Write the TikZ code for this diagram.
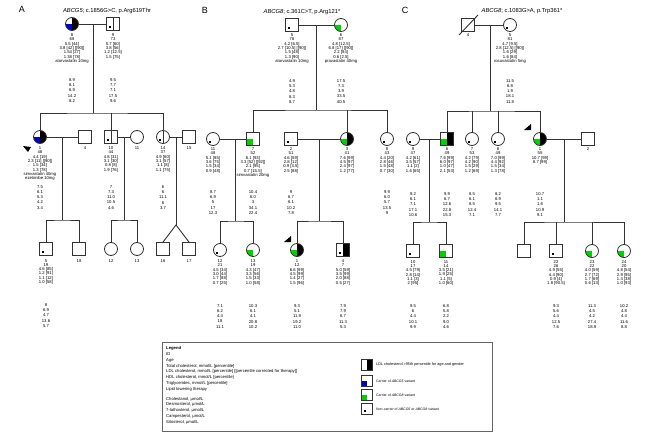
\documentclass[tikz,border=0pt]{standalone}
\usepackage{fontspec}
\setmainfont{Liberation Sans}
\definecolor{cblue}{RGB}{0,0,200}
\definecolor{cgreen}{RGB}{0,210,0}
\newcommand\PRH{\fill[black] (path picture bounding box.north) rectangle (path picture bounding box.south east);}
\newcommand\PBL[1]{\fill[#1] (path picture bounding box.center) rectangle (path picture bounding box.south west);}
\newcommand\PDOT{\fill[black] ([shift={(2.5pt,2.5pt)}]path picture bounding box.south west) rectangle ++(2.2pt,2.2pt);}
\newcommand\PVL{\draw[line width=0.6pt] (path picture bounding box.north) -- (path picture bounding box.south);}
\tikzset{
  ln/.style={line width=0.9pt, draw=black!80},
  male/.style={draw=black!80, line width=0.8pt, rectangle, minimum size=13pt, inner sep=0pt, fill=white},
  female/.style={draw=black!80, line width=0.8pt, circle, minimum size=13pt, inner sep=0pt, fill=white},
  pp/.style={path picture={#1}},
  info/.style={anchor=north, align=center, font=\fontsize{4.2}{4.3}\selectfont, inner sep=0pt},
  ster/.style={anchor=north, align=center, font=\fontsize{4.2}{5.3}\selectfont, inner sep=0pt},
  panel/.style={font=\fontsize{9}{9}\selectfont, inner sep=0pt},
  ttl/.style={font=\fontsize{5.8}{6}\selectfont, inner sep=0pt},
}
\begin{document}
\begin{tikzpicture}[x=1pt,y=-1pt]
\fill[white] (0,0) rectangle (654,434);
\useasboundingbox (0,0) rectangle (654,434);

% ---------------- Panel A ----------------
\node[panel] (pA) at (22,9) {A};
\node[ttl] (tA) at (107,11) {\textit{ABCG5}; c.1856G>C, p.Arg619Thr};
\node[female, pp={\PRH\PBL{cblue}}] (a8) at (72,24) {};
\node[male, pp={\PVL\PDOT}] (a9) at (113,24) {};
\node[info] (ia8) at (72,33.5) {8\\68\\5.5 [44]\\3.8 [42] [[90]]\\1.54 [27]\\1.38 [78]\\atorvastatin 10mg};
\node[ster] (sa8) at (72,78) {8.9\\8.1\\6.9\\14.2\\8.2};
\node[info] (ia9) at (113,33.5) {9\\73\\5.7 [60]\\3.8 [56]\\1.2 [12.5]\\1.5 [75]};
\node[ster] (sa9) at (113,78) {9.5\\7.7\\7.1\\17.5\\9.6};
\coordinate (mA1) at (93,24);
\coordinate (sA1) at (93,113);
\draw[ln] (a8) -- (a9);
\draw[ln] (mA1) -- (sA1);

\node[female, pp={\PRH\PBL{cblue}}] (a1) at (40,137) {};
\node[male] (a4) at (85,137) {};
\node[male, pp={\PVL\PDOT}] (a10) at (111,137) {};
\node[female] (a11) at (137,137) {};
\node[female, pp={\PVL\PDOT}] (a14) at (163,137) {};
\node[male] (a15) at (189,137) {};
\draw[ln] (a1) |- (sA1) -| (a14);
\draw[ln] (a10) -- (a10 |- sA1);
\draw[ln] (a1) -- (a4);
\draw[ln] (a10) -- (a11);
\draw[ln] (a14) -- (a15);
\fill[black] (23,146) -- (31,147) -- (28,152) -- cycle;
\node[info] (ia1) at (40,146.5) {1\\48\\4.4 [19]\\2.3 [11] [[90]]\\1.5 [34]\\1.3 [78]\\simvastatin 40mg\\ezetimibe 10mg};
\node[ster] (sa1) at (40,185) {7.5\\6.1\\5.3\\4.2\\3.4};
\node[info] (ia4) at (85,146.5) {4};
\node[info] (ia10) at (111,146.5) {10\\44\\4.8 [31]\\3.1 [30]\\0.8 [8]\\1.9 [76]};
\node[ster] (sa10) at (111,185) {7\\7.3\\11.0\\10.5\\4.6};
\node[info] (ia11) at (137,146.5) {11};
\node[info] (ia14) at (163,146.5) {14\\37\\4.9 [60]\\3.1 [57]\\1.1 [8]\\1.1 [75]};
\node[ster] (sa14) at (163,185) {6\\6\\11.1\\6\\3.7};
\node[info] (ia15) at (189,146.5) {15};

\coordinate (mA2) at (62,137);
\coordinate (sA2) at (62,220);
\coordinate (mA3) at (124,137);
\coordinate (sA3) at (124,220);
\coordinate (mA4) at (176,137);
\coordinate (tw) at (176,225);
\draw[ln] (mA2) -- (sA2);
\draw[ln] (mA3) -- (sA3);
\draw[ln] (mA4) -- (tw);

\node[male, pp={\PDOT}] (a5) at (46,249) {};
\node[male] (a18) at (79,249) {};
\node[female] (a12) at (111,249) {};
\node[female] (a13) at (137,249) {};
\node[male] (a16) at (163,249) {};
\node[male] (a17) at (189,249) {};
\draw[ln] (a5) |- (sA2) -| (a18);
\draw[ln] (a12) |- (sA3) -| (a13);
\draw[ln] (a16.north) -- (tw) -- (a17.north);
\node[info] (ia5) at (46,259) {5\\19\\4.6 [85]\\1.2 [91]\\1.1 [12]\\1.0 [58]};
\node[ster] (sa5) at (46,303) {8\\6.9\\4.7\\13.6\\5.7};
\node[info] (ia18) at (79,259) {18};
\node[info] (ia12) at (111,259) {12};
\node[info] (ia13) at (137,259) {13};
\node[info] (ia16) at (163,259) {16};
\node[info] (ia17) at (189,259) {17};

% ---------------- Panel B ----------------
\node[panel] (pB) at (205,10) {B};
\node[ttl] (tB) at (302,12) {\textit{ABCG8}; c.361C>T, p.Arg121*};
\node[male, pp={\PDOT}] (b5) at (292,25) {};
\node[female, pp={\PBL{cgreen}}] (b6) at (341,25) {};
\coordinate (mB1) at (316,25);
\coordinate (sB1) at (316,110);
\draw[ln] (b5) -- (b6);
\draw[ln] (mB1) -- (sB1);
\node[info] (ib5) at (292,33.5) {5\\76\\4.2 [6.5]\\2.7 [10.5] [[90]]\\1.5 [48]\\1.3 [90]\\atorvastatin 10mg};
\node[ster] (sb5) at (292,79) {4.9\\5.3\\4.8\\8.3\\8.7};
\node[info] (ib6) at (341,33.5) {6\\87\\4.8 [12.5]\\6.8 [17] [[90]]\\2.2 [84]\\0.6 [2.5]\\pravastatin 40mg};
\node[ster] (sb6) at (341,79) {17.5\\7.3\\3.9\\33.5\\40.5};

\node[female, pp={\PDOT}] (b11) at (213,139) {};
\node[male, pp={\PBL{cgreen}}] (b7) at (253,139) {};
\node[male, pp={\PDOT}] (b2) at (291,139) {};
\node[female, pp={\PRH\PBL{cgreen}}] (b3) at (347,139) {};
\node[female, pp={\PDOT}] (b8) at (387,139) {};
\draw[ln] (b7) |- (sB1) -| (b8);
\draw[ln] (b3) -- (b3 |- sB1);
\draw[ln] (b11) -- (b7);
\draw[ln] (b2) -- (b3);
\coordinate (mB2) at (235,139);
\coordinate (sB2) at (235,221);
\coordinate (mB3) at (319,139);
\coordinate (sB3) at (319,221);
\draw[ln] (mB2) -- (sB2);
\draw[ln] (mB3) -- (sB3);
\node[info] (ib11) at (213,147.5) {11\\48\\5.1 [85]\\3.6 [75]\\1.5 [34]\\0.9 [48]};
\node[ster] (sb11) at (213,190) {8.7\\6.9\\5\\17\\12.3};
\node[info] (ib7) at (253,147.5) {7\\52\\6.1 [93]\\3.3 [52] [[92]]\\2.1 [95]\\0.7 [15.5]\\simvastatin 20mg};
\node[ster] (sb7) at (253,190) {10.4\\6.0\\3\\34.1\\22.4};
\node[info] (ib2) at (291,147.5) {2\\51\\4.6 [59]\\2.8 [12]\\0.9 [3.5]\\2.5 [88]};
\node[ster] (sb2) at (291,190) {9\\6.7\\6.1\\10.2\\7.8};
\node[info] (ib3) at (347,147.5) {3\\41\\7.6 [99]\\4.5 [97]\\2.4 [97]\\1.2 [77]};
\node[info] (ib8) at (387,147.5) {8\\43\\4.4 [20]\\2.8 [46]\\1.5 [48]\\0.7 [30]};
\node[ster] (sb8) at (387,190) {9.9\\6.0\\5.7\\13.5\\9};

\node[female, pp={\PDOT}] (b12) at (220,250) {};
\node[female, pp={\PBL{cgreen}}] (b13) at (253,250) {};
\node[female, pp={\PRH\PBL{cgreen}}] (b1) at (297,250) {};
\node[male, pp={\PRH\PDOT}] (b4) at (343,250) {};
\draw[ln] (b12) |- (sB2) -| (b13);
\draw[ln] (b1) |- (sB3) -| (b4);
\fill[black] (284,242) -- (291,236) -- (291,242) -- cycle;
\node[info] (ib12) at (220,259.5) {12\\21\\4.5 [34]\\3.0 [44]\\1.7 [88]\\0.7 [25]};
\node[ster] (sb12) at (220,304) {7.1\\6.2\\4.4\\18\\11.1};
\node[info] (ib13) at (253,259.5) {13\\19\\4.3 [47]\\3.3 [56]\\1.5 [33]\\1.0 [58]};
\node[ster] (sb13) at (253,304) {10.3\\6.1\\4.1\\20.8\\10.2};
\node[info] (ib1) at (297,259.5) {1\\12\\6.6 [99]\\4.5 [99]\\1.4 [27]\\1.5 [96]};
\node[ster] (sb1) at (297,304) {9.3\\5.1\\11.9\\19.2\\11.0};
\node[info] (ib4) at (343,259.5) {4\\7\\5.0 [59]\\3.5 [99]\\2.0 [88]\\0.5 [27]};
\node[ster] (sb4) at (343,304) {7.9\\7.9\\6.7\\11.3\\5.3};

% ---------------- Panel C ----------------
\node[panel] (pC) at (405,10) {C};
\node[ttl] (tC) at (522,11) {\textit{ABCG8}; c.1083G>A, p.Trp361*};
\node[male] (c4) at (468,25) {};
\draw[ln] ([shift={(-9pt,-10pt)}]c4.center) -- ([shift={(10pt,10pt)}]c4.center);
\node[female, pp={\PDOT}] (c5) at (510,25) {};
\coordinate (mC1) at (490,25);
\coordinate (sC1) at (490,111);
\draw[ln] (c4) -- (c5);
\draw[ln] (mC1) -- (sC1);
\node[info] (ic4) at (468,33.5) {4};
\node[info] (ic5) at (510,33.5) {5\\81\\4.7 [9.5]\\2.8 [12.5] [[90]]\\1.6 [29]\\1.6 [84]\\rosuvastatin 5mg};
\node[ster] (sc5) at (510,79) {11.5\\6.8\\1.9\\18.1\\11.8};

\node[female, pp={\PDOT}] (c9) at (413,139) {};
\node[male, pp={\PRH\PBL{cgreen}}] (c6) at (447,139) {};
\node[female, pp={\PDOT}] (c7) at (472,139) {};
\node[female, pp={\PDOT}] (c8) at (498,139) {};
\node[female, pp={\PRH\PBL{cgreen}}] (c1) at (540,139) {};
\node[male] (c2) at (588,139) {};
\draw[ln] (c6) |- (sC1) -| (c1);
\draw[ln] (c7) -- (c7 |- sC1);
\draw[ln] (c8) -- (c8 |- sC1);
\draw[ln] (c9) -- (c6);
\draw[ln] (c1) -- (c2);
\fill[black] (524,130) -- (531,124) -- (531,130) -- cycle;
\coordinate (mC2) at (429,139);
\coordinate (sC2) at (429,222);
\coordinate (mC3) at (564,139);
\coordinate (sC3) at (564,222);
\draw[ln] (mC2) -- (sC2);
\draw[ln] (mC3) -- (sC3);
\node[info] (ic9) at (413,147.5) {9\\47\\4.2 [61]\\3.5 [57]\\1.1 [2]\\1.6 [65]};
\node[ster] (sc9) at (413,192) {9.2\\6.1\\7.1\\17.1\\10.6};
\node[info] (ic6) at (447,147.5) {6\\49\\7.6 [99]\\6.0 [97]\\1.0 [47]\\2.1 [53]};
\node[ster] (sc6) at (447,192) {9.9\\6.7\\12.6\\22.8\\15.3};
\node[info] (ic7) at (472,147.5) {7\\53\\4.2 [79]\\4.2 [90]\\1.5 [29]\\1.2 [69]};
\node[ster] (sc7) at (472,192) {8.5\\6.1\\8.5\\12.4\\7.1};
\node[info] (ic8) at (498,147.5) {8\\49\\7.0 [99]\\4.4 [92]\\1.5 [34]\\1.3 [78]};
\node[ster] (sc8) at (498,192) {8.2\\6.9\\9.5\\14.1\\7.7};
\node[info] (ic1) at (540,147.5) {1\\55\\10.7 [99]\\8.7 [99]};
\node[ster] (sc1) at (540,192) {10.7\\1.1\\1.6\\10.9\\9.1};
\node[info] (ic2) at (588,147.5) {2};

\node[male, pp={\PDOT}] (c10) at (413,251) {};
\node[male, pp={\PBL{cgreen}}] (c11) at (446,251) {};
\node[male] (c21) at (524,251) {};
\node[male, pp={\PDOT}] (c22) at (556,251) {};
\node[female, pp={\PBL{cgreen}}] (c23) at (592,251) {};
\node[female, pp={\PBL{cgreen}}] (c24) at (624,251) {};
\draw[ln] (c10) |- (sC2) -| (c11);
\draw[ln] (c21) |- (sC3) -| (c24);
\draw[ln] (c22) -- (c22 |- sC3);
\draw[ln] (c23) -- (c23 |- sC3);
\node[info] (ic10) at (413,260) {10\\17\\4.5 [79]\\2.8 [14]\\1.1 [3]\\2 [95]};
\node[ster] (sc10) at (413,304) {9.5\\6\\4.4\\10.1\\9.9};
\node[info] (ic11) at (446,260) {11\\14\\3.5 [21]\\1.9 [25]\\1.1 [5]\\1.0 [60]};
\node[ster] (sc11) at (446,304) {6.8\\5.8\\2.2\\9.0\\4.6};
\node[info] (ic22) at (556,260) {22\\26\\4.9 [55]\\4.4 [90]\\0.9 [4]\\1.8 [90.5]};
\node[ster] (sc22) at (556,304) {9.3\\5.6\\4.4\\12.5\\7.6};
\node[info] (ic23) at (592,260) {23\\22\\4.0 [59]\\2.7 [72]\\1.7 [69]\\0.6 [13]};
\node[ster] (sc23) at (592,304) {11.3\\4.5\\4.2\\27.4\\18.9};
\node[info] (ic24) at (624,260) {24\\20\\4.8 [54]\\2.9 [95]\\1.4 [38]\\1.0 [93]};
\node[ster] (sc24) at (624,304) {10.2\\4.8\\4.4\\11.6\\8.8};

% ---------------- Legend ----------------
\node[draw=black!60, line width=0.8pt, minimum width=330pt, minimum height=89pt, anchor=north west, inner sep=0pt] (legbox) at (162,342) {};
\node[anchor=north west, align=left, inner sep=0pt, font=\fontsize{4.2}{5.8}\selectfont] (legtxt) at (166,346.5)
 {\textbf{Legend}\\ID\\Age\\Total cholesterol, mmol/L [percentile]\\LDL cholesterol, mmol/L [percentile] [[percentile corrected for therapy]]\\HDL cholesterol, mmol/L [percentile]\\Triglycerides, mmol/L [percentile]\\Lipid lowering therapy\\[4pt]Cholestanol, µmol/L\\Desmosterol, µmol/L\\7-lathosterol, µmol/L\\Campesterol, µmol/L\\Sitosterol, µmol/L};
\node[male, minimum size=11.5pt, pp={\PRH}] (l1) at (367,365) {};
\node[male, minimum size=11.5pt, pp={\PBL{cblue}}] (l2) at (367,381) {};
\node[male, minimum size=11.5pt, pp={\PBL{cgreen}}] (l3) at (367,395) {};
\node[male, minimum size=11.5pt, pp={\PDOT}] (l4) at (367,409) {};
\node[anchor=west, inner sep=0pt, font=\fontsize{3.8}{4}\selectfont] (lt1) at (376,365) {LDL cholesterol >95th percentile for age and gender};
\node[anchor=west, inner sep=0pt, font=\fontsize{3.5}{4}\selectfont] (lt2) at (376,381) {Carrier of \textit{ABCG5} variant};
\node[anchor=west, inner sep=0pt, font=\fontsize{3.5}{4}\selectfont] (lt3) at (376,395) {Carrier of \textit{ABCG8} variant};
\node[anchor=west, inner sep=0pt, font=\fontsize{3.5}{4}\selectfont] (lt4) at (376,409) {Non-carrier of \textit{ABCG5} or \textit{ABCG8} variant};
\end{tikzpicture}
\end{document}
